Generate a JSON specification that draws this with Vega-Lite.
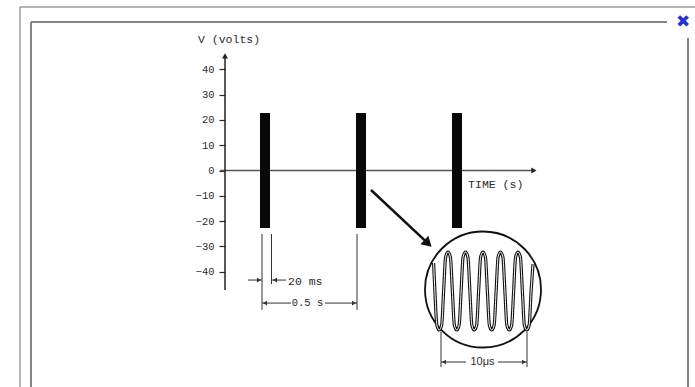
{
  "$schema": "https://vega.github.io/schema/vega-lite/v6.json",
  "width": 695,
  "height": 387,
  "padding": 0,
  "autosize": {"type": "none"},
  "background": "white",
  "config": {"view": {"stroke": null}},
  "datasets": {
    "lines": [
      {"part": "outer", "t": -1.0677, "t2": -1.0677, "v": 64.62, "v2": -85.57},
      {"part": "outer", "t": -1.0677, "t2": 2.4479, "v": 64.62, "v2": 64.62},
      {"part": "inner", "t": -1.0104, "t2": -1.0104, "v": 58.7, "v2": -85.57},
      {"part": "inner", "t": -1.0104, "t2": 2.3021, "v": 58.7, "v2": 58.7},
      {"part": "inner", "t": 2.4115, "t2": 2.4115, "v": 52.37, "v2": -85.57},
      {"part": "axis", "t": 0, "t2": 0, "v": -47.2, "v2": 45.5},
      {"part": "xaxis", "t": -0.026, "t2": 1.61, "v": 0, "v2": 0},
      {"part": "dim", "t": 0.1927, "t2": 0.1927, "v": -25.1, "v2": -55.1},
      {"part": "dim", "t": 0.2422, "t2": 0.2422, "v": -25.1, "v2": -44.9},
      {"part": "dim", "t": 0.6875, "t2": 0.6875, "v": -25.1, "v2": -55.1},
      {"part": "dim", "t": 0.1198, "t2": 0.1927, "v": -43.3, "v2": -43.3},
      {"part": "dim", "t": 0.2448, "t2": 0.3177, "v": -43.3, "v2": -43.3},
      {"part": "dim", "t": 0.1927, "t2": 0.3438, "v": -52.4, "v2": -52.4},
      {"part": "dim", "t": 0.5208, "t2": 0.6875, "v": -52.4, "v2": -52.4},
      {"part": "dim", "t": 1.125, "t2": 1.125, "v": -63.8, "v2": -77.7},
      {"part": "dim", "t": 1.5729, "t2": 1.5729, "v": -63.8, "v2": -77.7},
      {"part": "dim", "t": 1.125, "t2": 1.2552, "v": -75.7, "v2": -75.7},
      {"part": "dim", "t": 1.4219, "t2": 1.5729, "v": -75.7, "v2": -75.7},
      {"part": "arrow", "t": 0.7604, "t2": 1.0573, "v": -7.71, "v2": -28.8}
    ],
    "heads": [
      {"part": "axis", "dir": "up", "t": 0, "v": 45.3},
      {"part": "axis", "dir": "right", "t": 1.609, "v": 0},
      {"part": "dim", "dir": "right", "t": 0.177, "v": -43.3},
      {"part": "dim", "dir": "left", "t": 0.2604, "v": -43.3},
      {"part": "dim", "dir": "left", "t": 0.2083, "v": -52.4},
      {"part": "dim", "dir": "right", "t": 0.6719, "v": -52.4},
      {"part": "dim", "dir": "left", "t": 1.1406, "v": -75.7},
      {"part": "dim", "dir": "right", "t": 1.5573, "v": -75.7},
      {"part": "arrow", "dir": "right", "t": 1.0573, "v": -28.8}
    ],
    "pulses": [
      {"t": 0.1823, "t2": 0.2344, "v": -22.7, "v2": 22.7},
      {"t": 0.6823, "t2": 0.7344, "v": -22.7, "v2": 22.7},
      {"t": 1.1823, "t2": 1.2344, "v": -22.7, "v2": 22.7}
    ],
    "inset": [{"t": 1.34375, "v": -47.04}],
    "wave": [
      {"t": 1.0865, "v": -36.56}, {"t": 1.0931, "v": -47.63}, {"t": 1.1034, "v": -61.07},
      {"t": 1.1159, "v": -63.04}, {"t": 1.1284, "v": -61.07}, {"t": 1.1387, "v": -47.63},
      {"t": 1.149, "v": -34.19}, {"t": 1.1615, "v": -32.21}, {"t": 1.174, "v": -34.19},
      {"t": 1.1842, "v": -47.63}, {"t": 1.1945, "v": -61.07}, {"t": 1.207, "v": -63.04},
      {"t": 1.2195, "v": -61.07}, {"t": 1.2298, "v": -47.63}, {"t": 1.2401, "v": -34.19},
      {"t": 1.2526, "v": -32.21}, {"t": 1.2651, "v": -34.19}, {"t": 1.2754, "v": -47.63},
      {"t": 1.2857, "v": -61.07}, {"t": 1.2982, "v": -63.04}, {"t": 1.3107, "v": -61.07},
      {"t": 1.321, "v": -47.63}, {"t": 1.3313, "v": -34.19}, {"t": 1.3438, "v": -32.21},
      {"t": 1.3563, "v": -34.19}, {"t": 1.3665, "v": -47.63}, {"t": 1.3768, "v": -61.07},
      {"t": 1.3893, "v": -63.04}, {"t": 1.4018, "v": -61.07}, {"t": 1.4121, "v": -47.63},
      {"t": 1.4224, "v": -34.19}, {"t": 1.4349, "v": -32.21}, {"t": 1.4474, "v": -34.19},
      {"t": 1.4577, "v": -47.63}, {"t": 1.468, "v": -61.07}, {"t": 1.4805, "v": -63.04},
      {"t": 1.493, "v": -61.07}, {"t": 1.5033, "v": -47.63}, {"t": 1.5135, "v": -34.19},
      {"t": 1.526, "v": -32.21}, {"t": 1.5385, "v": -34.19}, {"t": 1.5488, "v": -47.63},
      {"t": 1.5591, "v": -61.07}, {"t": 1.5716, "v": -63.04}, {"t": 1.5841, "v": -61.07},
      {"t": 1.5944, "v": -47.63}, {"t": 1.6042, "v": -36.96}
    ],
    "labels": [
      {"part": "left", "label": "V (volts)", "t": -0.1406, "v": 51.6},
      {"part": "left", "label": "TIME (s)", "t": 1.266, "v": -5.73},
      {"part": "left", "label": "20 ms", "t": 0.328, "v": -44.1},
      {"part": "centermono", "label": "0.5 s", "t": 0.4297, "v": -52.4},
      {"part": "centersans", "label": "10μs", "t": 1.3411, "v": -75.7},
      {"part": "close", "label": "✖", "t": 2.3854, "v": 58.5}
    ]
  },
  "encoding": {
    "x": {"field": "t", "type": "quantitative", "scale": {"domain": [-1.1719, 2.4479], "nice": false, "zero": false}, "axis": null},
    "y": {
      "field": "v", "type": "quantitative",
      "scale": {"domain": [-85.57, 67.39], "nice": false, "zero": false},
      "axis": {
        "orient": "left", "offset": -225, "domain": false, "grid": false, "title": null,
        "values": [-40, -30, -20, -10, 0, 10, 20, 30, 40],
        "tickSize": 6, "tickWidth": 1.2, "tickColor": "#2a2a2a",
        "labelFont": "Liberation Mono", "labelFontSize": 10.5, "labelColor": "#2a2a2a", "labelPadding": 5
      }
    }
  },
  "layer": [
    {"data": {"name": "lines"}, "transform": [{"filter": "datum.part === 'outer'"}], "mark": {"type": "rule", "color": "#6a6a6a", "strokeWidth": 1}, "encoding": {"x2": {"field": "t2"}, "y2": {"field": "v2"}}},
    {"data": {"name": "lines"}, "transform": [{"filter": "datum.part === 'inner'"}], "mark": {"type": "rule", "color": "#858585", "strokeWidth": 2}, "encoding": {"x2": {"field": "t2"}, "y2": {"field": "v2"}}},
    {"data": {"name": "lines"}, "transform": [{"filter": "datum.part === 'xaxis'"}], "mark": {"type": "rule", "color": "#555", "strokeWidth": 1.6}, "encoding": {"x2": {"field": "t2"}, "y2": {"field": "v2"}}},
    {"data": {"name": "lines"}, "transform": [{"filter": "datum.part === 'axis'"}], "mark": {"type": "rule", "color": "#222", "strokeWidth": 1.5}, "encoding": {"x2": {"field": "t2"}, "y2": {"field": "v2"}}},
    {"data": {"name": "pulses"}, "mark": {"type": "rect", "color": "#080808"}, "encoding": {"x2": {"field": "t2"}, "y2": {"field": "v2"}}},
    {"data": {"name": "lines"}, "transform": [{"filter": "datum.part === 'dim'"}], "mark": {"type": "rule", "color": "#333", "strokeWidth": 1}, "encoding": {"x2": {"field": "t2"}, "y2": {"field": "v2"}}},
    {"data": {"name": "lines"}, "transform": [{"filter": "datum.part === 'arrow'"}], "mark": {"type": "rule", "color": "#111", "strokeWidth": 2.5}, "encoding": {"x2": {"field": "t2"}, "y2": {"field": "v2"}}},
    {"data": {"name": "heads"}, "transform": [{"filter": "datum.part === 'axis'"}], "mark": {"type": "point", "filled": true, "color": "#222", "size": 36, "opacity": 1}, "encoding": {"shape": {"field": "dir", "type": "nominal", "scale": {"domain": ["up", "right", "left"], "range": ["triangle-up", "triangle-right", "triangle-left"]}, "legend": null}}},
    {"data": {"name": "heads"}, "transform": [{"filter": "datum.part === 'dim'"}], "mark": {"type": "point", "filled": true, "color": "#333", "size": 22, "opacity": 1}, "encoding": {"shape": {"field": "dir", "type": "nominal", "scale": {"domain": ["up", "right", "left"], "range": ["triangle-up", "triangle-right", "triangle-left"]}, "legend": null}}},
    {"data": {"name": "heads"}, "transform": [{"filter": "datum.part === 'arrow'"}], "mark": {"type": "point", "filled": true, "color": "#111", "size": 130, "opacity": 1, "shape": "triangle-right", "angle": 43}},
    {"data": {"name": "inset"}, "mark": {"type": "point", "shape": "circle", "filled": false, "stroke": "#111", "strokeWidth": 1.8, "size": 13456, "opacity": 1}},
    {"data": {"name": "wave"}, "mark": {"type": "line", "color": "#111", "strokeWidth": 3.2, "interpolate": "monotone"}, "encoding": {}},
    {"data": {"name": "wave"}, "mark": {"type": "line", "color": "#ffffff", "strokeWidth": 1, "interpolate": "monotone"}, "encoding": {}},
    {"data": {"name": "labels"}, "transform": [{"filter": "datum.part === 'left'"}], "mark": {"type": "text", "align": "left", "baseline": "middle", "font": "Liberation Mono", "fontSize": 11.5, "color": "#2a2a2a"}, "encoding": {"text": {"field": "label"}}},
    {"data": {"name": "labels"}, "transform": [{"filter": "datum.part === 'centermono'"}], "mark": {"type": "text", "align": "center", "baseline": "middle", "font": "Liberation Mono", "fontSize": 10.5, "color": "#2a2a2a"}, "encoding": {"text": {"field": "label"}}},
    {"data": {"name": "labels"}, "transform": [{"filter": "datum.part === 'centersans'"}], "mark": {"type": "text", "align": "center", "baseline": "middle", "font": "Liberation Sans", "fontSize": 11, "color": "#2a2a2a"}, "encoding": {"text": {"field": "label"}}},
    {"data": {"name": "labels"}, "transform": [{"filter": "datum.part === 'close'"}], "mark": {"type": "text", "align": "center", "baseline": "middle", "font": "DejaVu Sans", "fontSize": 17, "color": "#2536c8"}, "encoding": {"text": {"field": "label"}}}
  ]
}
